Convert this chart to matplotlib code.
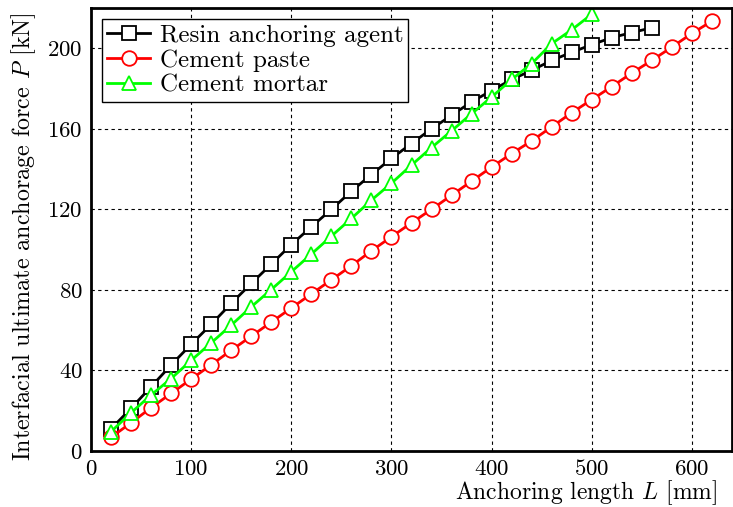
import numpy as np
import matplotlib
matplotlib.use('Agg')
import matplotlib.pyplot as plt

plt.rcParams['font.family'] = 'serif'
plt.rcParams['font.serif'] = ['cmr10']
plt.rcParams['mathtext.fontset'] = 'cm'
plt.rcParams['axes.formatter.use_mathtext'] = True

# anchoring length [mm]
L_resin = list(range(20, 561, 20))
L_paste = list(range(20, 621, 20))
L_mortar = list(range(20, 501, 20))

# interfacial ultimate anchorage force [kN]
P_resin = [11.0, 21.2, 31.9, 42.7, 53.0, 62.9, 73.3, 83.2, 92.8, 102.5,
           111.3, 120.0, 129.0, 137.3, 145.3, 152.7, 160.0, 166.7, 173.4, 179.0,
           184.5, 189.0, 194.0, 198.0, 201.8, 205.3, 207.8, 210.2]
P_paste = [6.8, 14.0, 21.5, 28.6, 35.7, 42.8, 50.0, 57.0, 64.0, 71.0,
           78.0, 85.0, 92.0, 99.4, 106.4, 113.3, 120.0, 127.0, 134.0, 141.0,
           147.7, 154.0, 161.0, 168.0, 174.5, 181.0, 187.7, 194.0, 200.6, 207.4,
           213.5]
P_mortar = [9.6, 19.0, 27.8, 36.0, 45.0, 53.7, 62.5, 71.6, 80.2, 89.0,
            97.8, 106.7, 115.5, 124.6, 133.0, 142.0, 150.7, 159.0, 167.5, 175.8,
            184.5, 192.4, 202.3, 209.2, 216.9]

fig = plt.figure(figsize=(7.33, 5.07), dpi=100)
ax = fig.add_axes([91 / 733, 1 - 451 / 507, 641 / 733, 443 / 507])

ax.plot(L_resin, P_resin, '-s', color='black', lw=2, ms=9.5, mfc='white',
        mec='black', mew=1.3, label='Resin anchoring agent')
ax.plot(L_paste, P_paste, '-o', color='red', lw=2, ms=10.5, mfc='white',
        mec='red', mew=1.3, label='Cement paste')
ax.plot(L_mortar, P_mortar, '-^', color='#00ff00', lw=2, ms=10.5, mfc='white',
        mec='#00ff00', mew=1.3, label='Cement mortar')

ax.set_xlim(0, 640)
ax.set_ylim(0, 220)
ax.set_xticks(np.arange(0, 601, 100))
ax.set_yticks(np.arange(0, 201, 40))
ax.grid(True, linestyle=(0, (3, 3)), color='black', lw=0.8)
ax.tick_params(direction='in', length=0, labelsize=16.5, pad=6)
for s in ax.spines.values():
    s.set_linewidth(2)

ax.set_xlabel('Anchoring length $L$ [mm]', fontsize=17, ha='right')
ax.xaxis.set_label_coords(0.977, -0.062)
ax.set_ylabel('Interfacial ultimate anchorage force $P$ [kN]', fontsize=17.3)
ax.yaxis.set_label_coords(-0.083, 0.484)

leg = ax.legend(loc='upper left', fontsize=18, fancybox=False, edgecolor='black',
                framealpha=1, handlelength=1.7, borderaxespad=0.45,
                borderpad=0.2, labelspacing=0.1, handletextpad=0.4)
leg.get_frame().set_linewidth(1)

fig.savefig('out.png', dpi=100)
